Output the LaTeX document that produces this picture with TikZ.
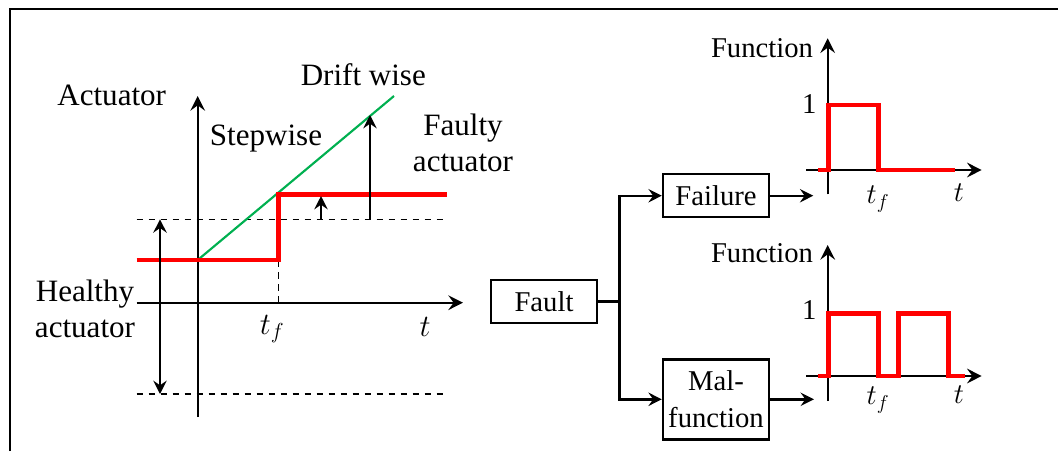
\RequirePackage{fix-cm}
\documentclass[tikz,border=0pt]{standalone}
\usepackage{fontspec}
\setmainfont{Liberation Serif}
\usetikzlibrary{arrows.meta}
\definecolor{faultred}{RGB}{255,0,0}
\definecolor{driftgreen}{RGB}{0,176,80}
\begin{document}
\begin{tikzpicture}[x=0.75pt,y=-0.75pt,
  tip/.style={-{Stealth[length=10pt,width=10pt,inset=3.5pt]}},
  axis/.style={line width=1.8pt,-{Stealth[length=11pt,width=11pt,inset=4pt]}},
  conn/.style={line width=1.8pt},
  guide/.style={line width=1.1pt,dash pattern=on 5pt off 4pt},
  signal/.style={line width=3.5pt,color=faultred,line join=miter},
  bigtxt/.style={inner sep=0pt,font=\fontsize{23.3}{27.5}\selectfont,align=center},
  smtxt/.style={inner sep=0pt,font=\fontsize{21.5}{27.5}\selectfont,align=center},
  blockbox/.style={draw,line width=1.8pt,minimum width=79.5pt,minimum height=32.3pt,inner sep=2pt,
    font=\fontsize{21.5}{27.5}\selectfont,align=center}]

\useasboundingbox (0,0) rectangle (1058,451);

% outer frame (top and left edges)
\draw[line width=1.8pt] (10,451) -- (10,9) -- (1058,9);

% ---------- actuator fault types ----------
\draw[guide] (136.7,219.3) -- (446.7,219.3);
\draw[guide] (136.7,394) -- (446.7,394);
\draw[guide] (278.3,260) -- (278.3,302.7);
\draw[axis] (197.7,417) -- (197.7,96);
\draw[axis] (136.7,302.7) -- (463,302.7);
\draw[line width=1.6pt,color=driftgreen] (197.7,260) -- (394,96);
\draw[signal] (136.7,260) -- (278.3,260) -- (278.3,194.3) -- (446.7,194.3);
\draw[line width=1.6pt,{Stealth[length=10pt,width=10pt,inset=3.5pt]}-{Stealth[length=10pt,width=10pt,inset=3.5pt]}]
  (160,219.3) -- (160,394);
\draw[line width=1.4pt,tip] (321,219.3) -- (321,196);
\draw[line width=1.4pt,tip] (370,219.3) -- (370,115);

\node[bigtxt] (lblact) at (111.7,95) {Actuator};
\node[bigtxt] (lbldrift) at (363.3,75) {Drift wise};
\node[bigtxt] (lblstep) at (266,139) {Stepwise};
\node[bigtxt] (lblfaulty) at (463,143) {Faulty\\actuator};
\node[bigtxt] (lblhealthy) at (85,309) {Healthy\\actuator};
\node[bigtxt] (lbltf) at (272,329) {$t_f$};
\node[bigtxt] (lblt) at (425,327) {$t$};

% ---------- fault classification ----------
\node[blockbox] (fault) at (544,301.5) {Fault};
\node[blockbox] (failure) at (716,195.7) {Failure};
\node[blockbox,minimum height=60pt] (malf) at (716,399.3) {Mal-\\function};
\coordinate (branch) at (619.3,301.5);
\coordinate (outfail) at (813.3,195.7);
\coordinate (outmalf) at (814,399.3);
\draw[conn] (fault.east) -- (branch);
\draw[conn,tip] (branch) |- (failure.west);
\draw[conn,tip] (branch) |- (malf.west);
\draw[conn,tip] (failure.east) -- (outfail);
\draw[conn,tip] (malf.east) -- (outmalf);

% failure: function drops to zero
\draw[axis] (827.7,194.3) -- (827.7,38.3);
\draw[axis] (806,170) -- (981.7,170);
\draw[signal] (818.3,170) -- (828.5,170) -- (828.5,105) -- (878.7,105) -- (878.7,170) -- (955,170);
\node[smtxt] (fn1) at (762,48.3) {Function};
\node[smtxt] (one1) at (809.3,104) {1};
\node[smtxt] (tf1) at (878,199) {$t_f$};
\node[smtxt] (t1) at (959,193) {$t$};

% malfunction: function drops intermittently
\draw[axis] (827.7,401) -- (827.7,245);
\draw[axis] (806,376) -- (981.7,376);
\draw[signal] (818.3,376) -- (828.5,376) -- (828.5,313.3) -- (878.7,313.3) -- (878.7,376)
  -- (898.3,376) -- (898.3,313.3) -- (948.3,313.3) -- (948.3,376) -- (965,376);
\node[smtxt] (fn2) at (762,253.3) {Function};
\node[smtxt] (one2) at (809.3,310) {1};
\node[smtxt] (tf2) at (878,400) {$t_f$};
\node[smtxt] (t2) at (959,395) {$t$};
\end{tikzpicture}
\end{document}
